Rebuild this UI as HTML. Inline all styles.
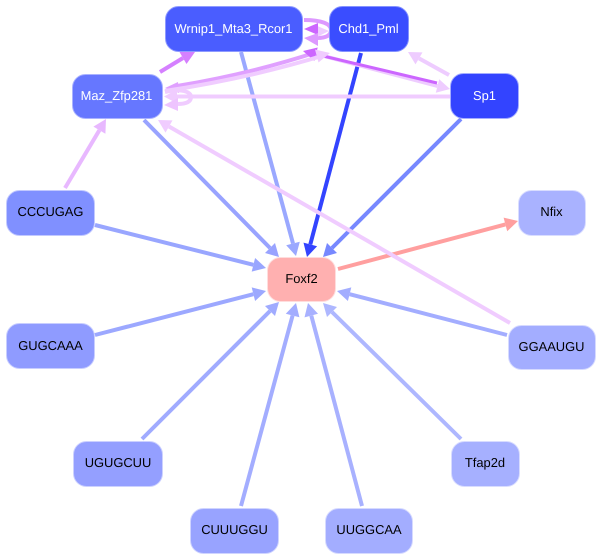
<!DOCTYPE html>
<html><head><meta charset="utf-8"><style>
html,body{margin:0;padding:0;background:#fff}
svg{display:block}
text{font-family:"Liberation Sans",sans-serif;font-size:12.9px;text-anchor:middle;text-rendering:geometricPrecision}
</style></head><body>
<svg width="603" height="560" viewBox="0 0 603 560" xmlns="http://www.w3.org/2000/svg">
<rect width="603" height="560" fill="#fff"/>
<g fill="none" stroke-width="4">
<line x1="144" y1="120" x2="270" y2="248" stroke="#99a3ff"/>
<polygon points="279,257 265,253 275,243" fill="#99a3ff"/>
<line x1="241" y1="52" x2="293" y2="243.5" stroke="#9aa8ff"/>
<polygon points="296,256 299.8,241.7 286.2,245.3" fill="#9aa8ff"/>
<line x1="361" y1="53" x2="310.3" y2="244.4" stroke="#3344ff"/>
<polygon points="307,257 317.1,246.2 303.5,242.6" fill="#3344ff"/>
<line x1="461" y1="119" x2="332" y2="248" stroke="#7788ff"/>
<polygon points="323,257 337,253 327,243" fill="#7788ff"/>
<line x1="95" y1="225" x2="253.4" y2="264.8" stroke="#99a6ff"/>
<polygon points="266,268 251.7,271.6 255.1,258" fill="#99a6ff"/>
<line x1="95" y1="335" x2="253.4" y2="294.2" stroke="#9ca8ff"/>
<polygon points="266,291 251.7,287.4 255.1,301" fill="#9ca8ff"/>
<line x1="142" y1="439" x2="270" y2="311" stroke="#a0abff"/>
<polygon points="279,302 265,306 275,316" fill="#a0abff"/>
<line x1="241" y1="506" x2="292.6" y2="315.5" stroke="#a3adff"/>
<polygon points="296,303 299.4,317.3 285.8,313.7" fill="#a3adff"/>
<line x1="362" y1="506" x2="311.3" y2="315.6" stroke="#a8b1ff"/>
<polygon points="308,303 318,313.8 304.5,317.4" fill="#a8b1ff"/>
<line x1="461" y1="439" x2="332" y2="312" stroke="#aeb7ff"/>
<polygon points="323,303 327,317 337,307" fill="#aeb7ff"/>
<line x1="507" y1="335" x2="349.6" y2="294.2" stroke="#a3adff"/>
<polygon points="337,291 351.3,287.4 347.9,301" fill="#a3adff"/>
<line x1="338" y1="269" x2="505.4" y2="224.4" stroke="#ff9f9f"/>
<polygon points="518,221 507.2,231.2 503.6,217.6" fill="#ff9f9f"/>
<line x1="510" y1="323" x2="169" y2="126.5" stroke="#f0ccff"/>
<polygon points="158,120 172.5,120.4 165.5,132.6" fill="#f0ccff"/>
<line x1="65" y1="188" x2="99.4" y2="130.2" stroke="#e8b8ff"/>
<polygon points="106,119 105.4,133.8 93.4,126.6" fill="#e8b8ff"/>
<line x1="160" y1="72" x2="183" y2="58" stroke="#d580ff"/>
<polygon points="195,52 186.5,64 179.5,52" fill="#d580ff"/>
<path d="M177,86 Q250,74 317,52" stroke="#e0a0ff"/>
<polygon points="165,88 178,82 179,93" fill="#e0a0ff"/>
<line x1="450" y1="96.5" x2="177" y2="96.5" stroke="#f0ccff"/>
<polygon points="164,96.5 177,89.5 177,103.5" fill="#f0ccff"/>
<path d="M165,92 C182,88 191,92 191,97 C191,102 186,104 177,104" stroke="#f0ccff"/>
<polygon points="164,105 178,98 178,111" fill="#eec4ff"/>
<line x1="449" y1="75" x2="419" y2="58.4" stroke="#eeccff"/>
<polygon points="408,52 422.5,52.4 415.5,64.4" fill="#eeccff"/>
<line x1="320" y1="55" x2="437.5" y2="86" stroke="#eeccff"/>
<polygon points="450,89 439.2,79.2 435.8,92.8" fill="#eeccff"/>
<line x1="437" y1="83" x2="316" y2="54.3" stroke="#cc66ff" stroke-width="3"/>
<polygon points="303,51 317.7,47.5 314.3,61" fill="#cc66ff"/>
<path d="M165,91 Q250,78 325,55" stroke="#f0ccff"/>
<polygon points="330,53 315,49.5 318.5,62.5" fill="#f0ccff"/>
<path d="M304,20 C322,20 331,24 331,30 C331,36 325,38 317,38" stroke="#dd99ff"/>
<polygon points="329,31 315,25 315,38" fill="#eeccff"/>
<polygon points="304,29 318,23 318,35" fill="#cc66ff"/>
<polygon points="304,38 318,33 318,46" fill="#dd99ff"/>
</g>
<g stroke-width="1">
<rect x="165.5" y="6.5" width="137" height="45" rx="13" fill="#4a5dff" stroke="#8f9bff"/>
<rect x="329.5" y="6.5" width="79" height="45" rx="13" fill="#3a4dff" stroke="#8593ff"/>
<rect x="72.5" y="74.5" width="90" height="44" rx="13" fill="#6677ff" stroke="#aab3ff"/>
<rect x="450.5" y="73.5" width="68" height="45" rx="13" fill="#3344ff" stroke="#a4adff"/>
<rect x="6.5" y="190.5" width="88" height="45" rx="13" fill="#8090ff" stroke="#c2c9ff"/>
<rect x="518.5" y="190.5" width="67" height="45" rx="13" fill="#a9b2ff" stroke="#d9ddff"/>
<rect x="267.5" y="257.5" width="68" height="44" rx="13" fill="#ffb0b0" stroke="#ffdddd"/>
<rect x="6.5" y="323.5" width="88" height="45" rx="13" fill="#8f9bff" stroke="#c8ceff"/>
<rect x="508.5" y="325.5" width="87" height="44" rx="13" fill="#a3adff" stroke="#d6daff"/>
<rect x="73.5" y="441.5" width="89" height="45" rx="13" fill="#949fff" stroke="#ccd1ff"/>
<rect x="451.5" y="441.5" width="68" height="45" rx="13" fill="#a6b0ff" stroke="#d8dcff"/>
<rect x="190.5" y="508.5" width="88" height="45" rx="13" fill="#98a3ff" stroke="#cfd4ff"/>
<rect x="325.5" y="508.5" width="87" height="45" rx="13" fill="#a3adff" stroke="#d6daff"/>
</g>
<g fill="#fff">
<text x="233.5" y="33">Wrnip1_Mta3_Rcor1</text>
<text x="368.5" y="33">Chd1_Pml</text>
<text x="116.5" y="100">Maz_Zfp281</text>
<text x="484.5" y="100">Sp1</text>
</g>
<g fill="#000">
<text x="50.5" y="216">CCCUGAG</text>
<text x="551.5" y="216">Nfix</text>
<text x="301.5" y="283">Foxf2</text>
<text x="50.5" y="350">GUGCAAA</text>
<text x="551.5" y="351">GGAAUGU</text>
<text x="118" y="467">UGUGCUU</text>
<text x="485" y="467">Tfap2d</text>
<text x="234.5" y="534">CUUUGGU</text>
<text x="369" y="534">UUGGCAA</text>
</g>
</svg>
</body></html>
